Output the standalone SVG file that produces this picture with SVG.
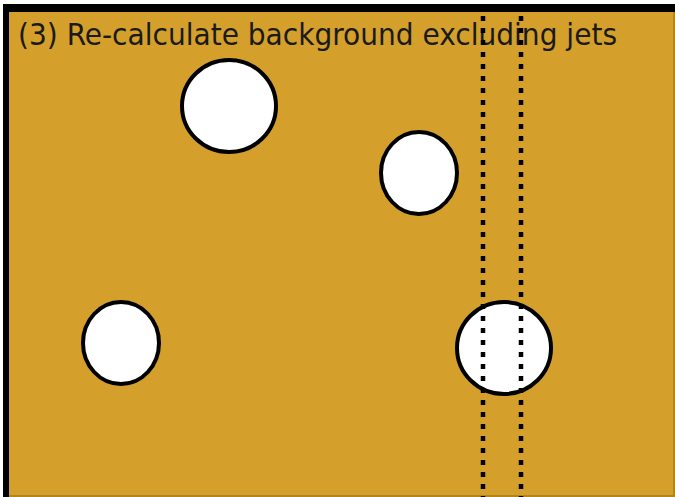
<svg xmlns="http://www.w3.org/2000/svg" width="675" height="497" viewBox="0 0 675 497">
<style>
.jet{fill:#ffffff;stroke:#000000;stroke-width:4}
.dot{stroke:#000000;stroke-width:4.5;stroke-dasharray:5 7;fill:none}
.title{font-family:"DejaVu Sans Condensed","DejaVu Sans",sans-serif;font-size:30px;fill:#1a1a1a}
</style>
<rect x="0" y="0" width="675" height="497" fill="#ffffff"/>
<rect x="3" y="4" width="672" height="493" fill="#000000"/>
<rect x="9" y="12" width="666" height="485" fill="#b08520"/>
<rect x="9" y="12" width="664" height="483" fill="#d4a02b"/>
<text class="title" x="18" y="45" textLength="599" lengthAdjust="spacingAndGlyphs">(3) Re-calculate background excluding jets</text>
<g id="jet1"><ellipse class="jet" cx="229" cy="106" rx="47" ry="46"/></g>
<g id="jet2"><ellipse class="jet" cx="419" cy="173" rx="38" ry="41"/></g>
<g id="jet3"><ellipse class="jet" cx="121" cy="343" rx="38" ry="41"/></g>
<g id="jet4"><ellipse class="jet" cx="504" cy="348" rx="47" ry="46"/></g>
<g id="connectors">
<line class="dot" x1="483" y1="16" x2="483" y2="497"/>
<line class="dot" x1="521" y1="16" x2="521" y2="497"/>
</g>
</svg>
